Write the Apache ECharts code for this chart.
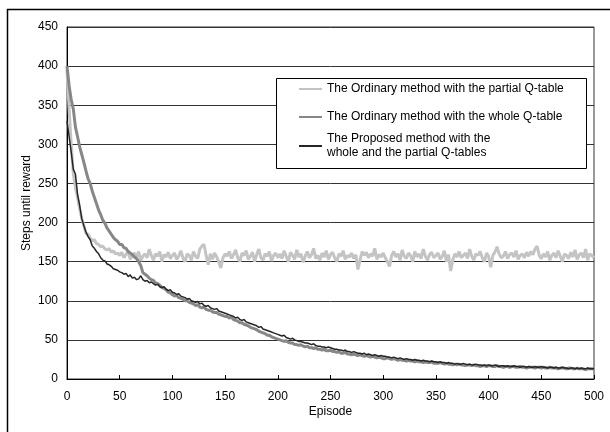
<!DOCTYPE html>
<html>
<head>
<meta charset="utf-8">
<script src="https://cdn.jsdelivr.net/npm/echarts@6/dist/echarts.min.js"></script>
<style>
  html, body { margin: 0; padding: 0; background: #fff; }
  #chart { width: 610px; height: 432px; }
</style>
</head>
<body>
<div id="chart"></div>
<script>
// one sample every 2 episodes, episode 0..500
const EPISODE_STEP = 2
const xTicks = [0, 50, 100, 150, 200, 250, 300, 350, 400, 450, 500]
const yTicks = [0, 50, 100, 150, 200, 250, 300, 350, 400, 450]

const seriesNames = [
  'The Ordinary method with the partial Q-table',
  'The Ordinary method with the whole Q-table',
  'The Proposed method with the\nwhole and the partial Q-tables'
]

// ordinary method, partial Q-table (light gray)
const partialQ = [
  395,345,300,262,245,232,218,205,196,186,185,180,177,178,173,172,169,170,166,165,167,162,164,160,161,158,
  162,155,159,164,153,158,161,156,163,151,157,160,155,166,158,152,160,157,163,150,159,156,162,154,158,
  161,153,157,164,155,150,160,158,152,163,157,154,166,170,172,158,146,160,153,161,156,150,142,155,160,
  157,163,154,159,165,155,150,161,158,164,153,157,162,150,159,166,155,152,160,157,163,151,158,161,155,
  160,154,164,157,150,162,158,153,165,156,160,149,157,163,155,159,167,154,158,152,161,156,164,153,159,
  162,155,150,160,157,164,153,158,156,161,154,159,140,152,163,158,162,155,160,157,167,153,159,156,161,
  155,150,144,158,163,156,160,152,165,157,154,161,158,150,163,156,160,154,166,157,152,159,162,155,158,
  161,153,157,164,150,159,138,152,160,156,163,155,158,161,154,166,157,152,160,158,163,155,150,161,157,
  143,158,162,169,160,155,157,163,154,159,161,156,164,153,158,160,155,162,157,163,159,166,170,158,154,
  160,156,163,152,158,161,155,164,157,150,160,158,154,162,156,165,153,159,161,155,166,152,160,158,155
]

// ordinary method, whole Q-table (mid gray)
const wholeQ = [
  400,375,357,345,322,310,297,287,277,266,256,250,240,232,224,216,210,203,199,193,189,185,181,178,176,172,
  172,168,167,163,161,159,156,154,150,145,136,134,132,129,127,126,123,122,120,117,116,114,111,110,108,
  106,107,104,103,102,100,100,98,97,96,94,95,92,91,92,89,88,88,86,85,85,83,82,81,80,
  80,78,79,76,75,74,72,72,70,69,68,66,65,64,63,61,60,59,58,56,56,54,53,52,51,
  50,49,48,49,47,46,46,44,44,43,44,42,41,42,40,40,39,40,38,38,37,38,36,36,37,
  35,35,34,35,33,33,34,32,32,31,32,31,30,31,30,29,30,29,28,29,28,27,28,27,26,
  26,27,26,25,26,25,24,25,24,24,23,24,23,23,22,23,22,22,21,22,21,21,22,20,20,
  20,21,20,19,20,19,19,18,19,18,19,18,18,17,18,18,17,18,17,17,16,17,17,16,17,
  17,16,16,17,16,16,15,16,16,15,16,16,15,15,16,15,15,14,15,15,15,14,15,15,14,
  15,14,14,15,14,14,14,13,14,14,14,13,14,14,13,13,14,13,13,13,12,13,13,13,13
]

// proposed method (black)
const proposed = [
  330,310,290,268,262,236,222,205,196,188,182,178,170,167,163,160,155,152,151,147,146,144,141,140,139,137,
  136,134,135,131,133,129,130,127,128,132,127,125,126,123,124,122,120,121,118,117,118,115,113,114,111,
  110,108,109,106,105,104,102,103,100,99,98,99,96,97,94,93,94,91,90,89,90,87,86,85,84,
  83,82,81,80,78,79,76,75,76,73,72,71,70,69,68,66,67,64,63,62,61,60,59,58,57,
  56,55,56,53,52,51,52,50,49,48,48,47,46,46,45,44,45,43,42,42,41,41,40,41,40,
  39,38,38,37,37,36,37,35,35,34,35,34,33,33,32,33,31,32,31,30,31,30,29,30,29,
  29,28,28,27,28,27,26,27,26,25,26,25,25,24,25,24,24,23,24,23,23,22,23,22,22,
  21,22,21,21,20,21,20,20,19,20,19,19,20,19,18,19,18,18,19,18,18,17,18,17,18,
  17,17,18,17,16,17,17,16,17,16,16,17,16,16,15,16,16,15,16,15,15,16,15,15,16,
  15,15,14,15,15,14,15,14,14,15,14,14,13,14,14,13,14,13,14,13,13,14,13,13,13
]

const FONT = 'Liberation Sans'
const chart = echarts.init(document.getElementById('chart'))

function toPairs(values) {
  return values.map((v, i) => [i * EPISODE_STEP, v])
}

chart.setOption({
  animation: false,
  backgroundColor: '#fff',
  textStyle: { fontFamily: FONT, color: '#000' },
  grid: {
    left: 67, top: 27, right: 16, bottom: 53,
    show: true, borderColor: '#333', borderWidth: 1
  },
  graphic: [
    {
      // outer frame
      type: 'rect', z: 1, silent: true,
      shape: { x: 7.5, y: 9.5, width: 700, height: 500 },
      style: { fill: 'none', stroke: '#000', lineWidth: 1.5 }
    },
    {
      // legend box
      type: 'rect', z: 3, silent: true,
      shape: { x: 276.5, y: 78.5, width: 310, height: 90 },
      style: { fill: '#fff', stroke: '#000', lineWidth: 1 }
    }
  ],
  legend: {
    left: 298, top: 69, padding: 0, z: 4,
    orient: 'vertical',
    itemWidth: 23, itemHeight: 14, itemGap: 1,
    itemStyle: { opacity: 0 },
    textStyle: { fontFamily: FONT, fontSize: 12, color: '#000', lineHeight: 14 },
    data: [
      { name: seriesNames[0], textStyle: { padding: [13, 0, 13, 0] } },
      { name: seriesNames[1] },
      { name: seriesNames[2], textStyle: { padding: [14, 0, 0, 0] } }
    ]
  },
  xAxis: {
    type: 'value', min: 0, max: 500, interval: 50,
    name: 'Episode', nameLocation: 'middle', nameGap: 27, nameMoveOverlap: false,
    nameTextStyle: { fontFamily: FONT, fontSize: 12, color: '#000' },
    axisLine: { lineStyle: { color: '#000', width: 1 } },
    axisTick: { inside: true, length: 4, lineStyle: { color: '#000' } },
    axisLabel: {
      margin: 12, fontSize: 12, color: '#000', fontFamily: FONT,
      customValues: xTicks
    },
    splitLine: { show: false }
  },
  yAxis: {
    type: 'value', min: 0, max: 450, interval: 50,
    name: 'Steps until reward', nameLocation: 'middle', nameGap: 34, nameMoveOverlap: false,
    nameTextStyle: { fontFamily: FONT, fontSize: 12, color: '#000' },
    axisLine: { show: true, lineStyle: { color: '#000', width: 1 } },
    axisTick: { show: false },
    axisLabel: {
      margin: 9, fontSize: 12, color: '#000', fontFamily: FONT,
      customValues: yTicks
    },
    splitLine: { lineStyle: { color: '#333', width: 1 } }
  },
  series: [
    {
      name: seriesNames[0], type: 'line', symbol: 'none', z: 2,
      data: toPairs(partialQ),
      lineStyle: { color: '#c4c4c4', width: 3 },
      itemStyle: { color: '#c4c4c4' }
    },
    {
      name: seriesNames[1], type: 'line', symbol: 'none', z: 2,
      data: toPairs(wholeQ),
      lineStyle: { color: '#878787', width: 3 },
      itemStyle: { color: '#878787' }
    },
    {
      name: seriesNames[2], type: 'line', symbol: 'none', z: 2,
      data: toPairs(proposed),
      lineStyle: { color: '#262626', width: 1.5 },
      itemStyle: { color: '#262626' }
    }
  ]
})
</script>
</body>
</html>
